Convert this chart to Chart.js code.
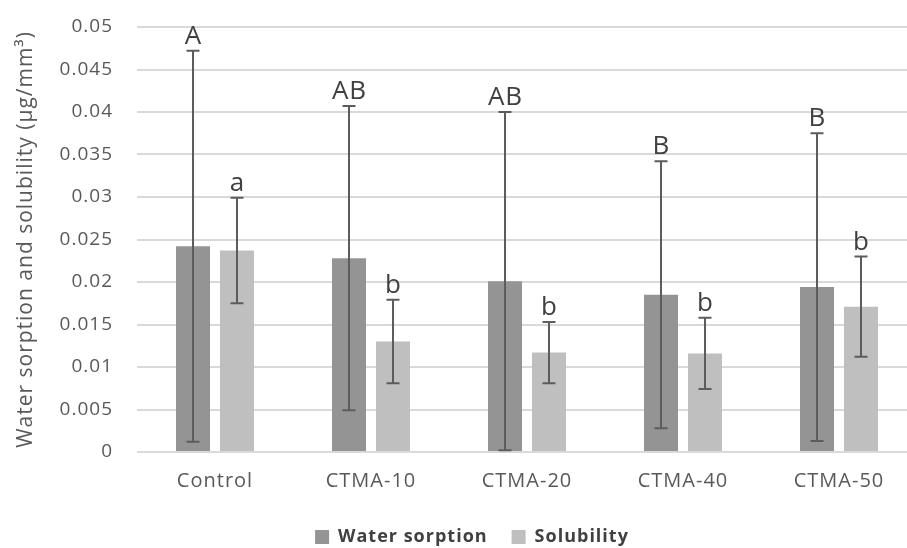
<!DOCTYPE html>
<html>
<head>
<meta charset="utf-8">
<script src="https://cdn.jsdelivr.net/npm/chart.js@4"></script>
<style>
  html, body { margin: 0; padding: 0; background: #fff; overflow: hidden; }
  #wrap { width: 944px; height: 548px; }
</style>
</head>
<body>
<div id="wrap"><canvas id="c" width="944" height="548"></canvas></div>
<script>
// Groups along the x axis
const categories = ['Control', 'CTMA-10', 'CTMA-20', 'CTMA-40', 'CTMA-50'];

// Means and standard deviations (µg/mm³)
const waterSorption   = [0.0242, 0.0228, 0.0201, 0.0185, 0.0194];
const waterSorptionSD = [0.0230, 0.0179, 0.0199, 0.0157, 0.0181];
const solubility      = [0.0237, 0.0130, 0.0117, 0.0116, 0.0171];
const solubilitySD    = [0.0062, 0.0049, 0.0036, 0.0042, 0.0059];

// Statistical grouping letters
const waterSorptionLetters = ['A', 'AB', 'AB', 'B', 'B'];
const solubilityLetters    = ['a', 'b', 'b', 'b', 'b'];

// Y axis ticks
const yTickValues = [0, 0.005, 0.01, 0.015, 0.02, 0.025, 0.03, 0.035, 0.04, 0.045, 0.05];
const yTickLabels = ['0', '0.005', '0.01', '0.015', '0.02', '0.025', '0.03', '0.035', '0.04', '0.045', '0.05'];

const FONT = "'Open Sans', 'Noto Sans', sans-serif";

// Slightly open letter spacing for all chart text
const spacingPlugin = {
  id: 'textSpacing',
  beforeUpdate(chart) { chart.ctx.letterSpacing = '1px'; },
  beforeDraw(chart) { chart.ctx.letterSpacing = '1px'; }
};

// Draws the ± SD whiskers and the letters above them
const errorBarPlugin = {
  id: 'errorBars',
  afterDatasetsDraw(chart) {
    const ctx = chart.ctx;
    const y = chart.scales.y;
    ctx.save();
    chart.data.datasets.forEach((ds, di) => {
      const meta = chart.getDatasetMeta(di);
      meta.data.forEach((bar, i) => {
        const v = ds.data[i], sd = ds.sd[i];
        const top = y.getPixelForValue(v + sd);
        const bot = y.getPixelForValue(v - sd);
        const x = bar.x;
        ctx.strokeStyle = '#5c5c5c';
        ctx.lineWidth = 2;
        ctx.beginPath();
        ctx.moveTo(x, top); ctx.lineTo(x, bot);
        ctx.moveTo(x - 6.5, top); ctx.lineTo(x + 6.5, top);
        ctx.moveTo(x - 6.5, bot); ctx.lineTo(x + 6.5, bot);
        ctx.stroke();
        ctx.fillStyle = '#404040';
        ctx.font = '26px ' + FONT;
        ctx.textAlign = 'center';
        ctx.textBaseline = 'alphabetic';
        ctx.fillText(ds.letters[i], x + 0.5, top - 7);
      });
    });
    ctx.restore();
  }
};

new Chart(document.getElementById('c'), {
  type: 'bar',
  data: {
    labels: categories,
    datasets: [
      {
        label: 'Water sorption',
        data: waterSorption,
        sd: waterSorptionSD,
        letters: waterSorptionLetters,
        backgroundColor: '#949494',
        categoryPercentage: 0.564,
        barPercentage: 0.773
      },
      {
        label: 'Solubility',
        data: solubility,
        sd: solubilitySD,
        letters: solubilityLetters,
        backgroundColor: '#bfbfbf',
        categoryPercentage: 0.564,
        barPercentage: 0.773
      }
    ]
  },
  options: {
    responsive: false,
    animation: false,
    devicePixelRatio: 1,
    layout: { padding: { left: 27, right: 27, top: 27, bottom: -8 } },
    plugins: {
      tooltip: { enabled: false },
      legend: {
        position: 'bottom',
        labels: {
          boxWidth: 14,
          boxHeight: 14,
          padding: 24,
          color: '#404040',
          font: { family: FONT, size: 18, weight: 'bold' }
        }
      }
    },
    scales: {
      x: {
        grid: { display: false, drawTicks: false },
        border: { display: false },
        ticks: { color: '#595959', padding: 17, font: { family: FONT, size: 20 } },
        afterFit(scale) {
          scale.height = 52;
          scale.paddingLeft = 0;
          scale.paddingRight = 0;
        }
      },
      y: {
        min: 0,
        max: 0.05,
        grid: { color: '#d9d9d9', lineWidth: 2, drawTicks: false },
        border: { display: false },
        afterBuildTicks(scale) { scale.ticks = yTickValues.map(v => ({ value: v })); },
        ticks: {
          color: '#595959',
          padding: 24,
          font: { family: FONT, size: 19 },
          callback(value, index) { return yTickLabels[index]; }
        },
        title: {
          display: true,
          text: 'Water sorption and solubility (µg/mm³)',
          color: '#595959',
          padding: { top: -14, bottom: 0 },
          font: { family: FONT, size: 21 }
        },
        afterFit(scale) {
          scale.width = 110;
          scale.paddingTop = 0;
          scale.paddingBottom = 0;
        }
      }
    }
  },
  plugins: [spacingPlugin, errorBarPlugin]
});
</script>
</body>
</html>
